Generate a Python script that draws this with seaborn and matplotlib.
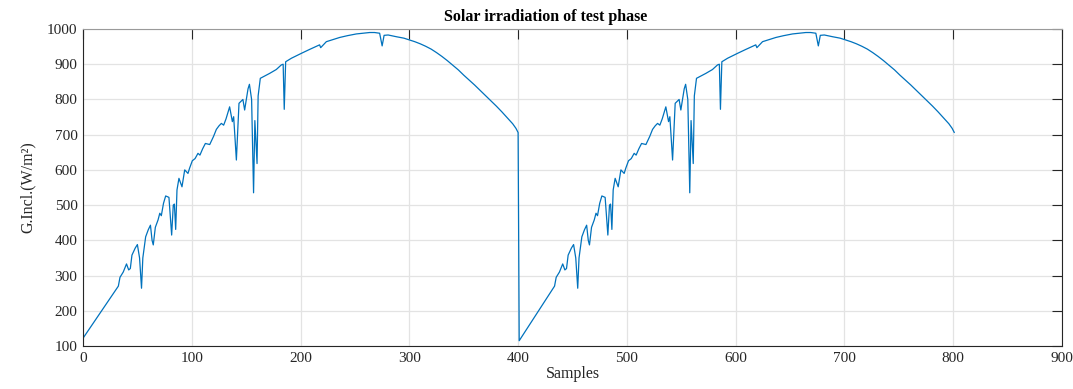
import matplotlib
matplotlib.use("Agg")
import matplotlib.pyplot as plt
import seaborn as sns
import pandas as pd

# ---- data ----
cycle1_samples = [0, 32.5, 34, 37, 40, 42, 43.5, 45, 48, 50, 52, 53.8, 55, 57.6, 60, 62,
                  63.5, 64.6, 66.5, 69, 70.6, 72, 74, 76, 79, 81.5, 83, 84, 85.2, 86.4,
                  88.2, 91, 93.5, 96.5, 98, 100.5, 103, 105.7, 107.5, 110, 112.5, 116.5,
                  120, 122.6, 125, 127.2, 129.3, 131.5, 134.8, 137.3, 138.5, 141, 143.4,
                  147, 148.6, 151.7, 153, 155, 156.8, 158, 160, 161, 163, 171.6, 177.7,
                  182.3, 184, 185, 186.3, 191.6, 200.8, 208.3, 217.5, 218.5, 223.7, 230,
                  236, 243, 251.3, 257, 263.5, 268, 272.7, 275, 276.8, 280.5, 288.2, 295,
                  300, 305, 310, 315, 320, 325, 330, 335, 340, 345, 350, 355, 360, 365,
                  370, 375, 380, 385, 390, 395, 398, 400]
cycle1_irr = [122, 270, 295, 310, 333, 316, 320, 358, 378, 388, 350, 264, 350, 410, 430, 443,
              400, 387, 437, 458, 477, 470, 505, 526, 522, 415, 500, 503, 431, 543,
              576, 552, 600, 590, 605, 626, 632, 647, 642, 660, 675, 672,
              695, 715, 725, 732, 727, 745, 779, 737, 751, 628, 789,
              800, 770, 830, 843, 800, 535, 740, 618, 810, 860, 874, 885,
              898, 900, 772, 907, 917, 931, 942, 955, 947, 964, 970,
              976, 981, 986, 988, 990, 990, 988, 952, 982, 983, 978, 974,
              969, 964, 958, 951, 943, 933, 922, 910, 897, 884, 869, 855, 841, 826,
              811, 796, 781, 765, 748, 731, 718, 706]
cycle2_samples = [401, 433.5, 435, 438, 441, 443, 444.5, 446, 449, 451, 453, 454.8, 456, 458.6, 461, 463,
                  464.5, 465.6, 467.5, 470, 471.6, 473, 475, 477, 480, 482.5, 484, 485, 486.2, 487.4,
                  489.2, 492, 494.5, 497.5, 499, 501.5, 504, 506.7, 508.5, 511, 513.5, 517.5,
                  521, 523.6, 526, 528.2, 530.3, 532.5, 535.8, 538.3, 539.5, 542, 544.4,
                  548, 549.6, 552.7, 554, 556, 557.8, 559, 561, 562, 564, 572.6, 578.7,
                  583.3, 585, 586, 587.3, 592.6, 601.8, 609.3, 618.5, 619.5, 624.7, 631,
                  637, 644, 652.3, 658, 664.5, 669, 673.7, 676, 677.8, 681.5, 689.2, 696,
                  701, 706, 711, 716, 721, 726, 731, 736, 741, 746, 751, 756, 761, 766,
                  771, 776, 781, 786, 791, 796, 799, 801]
cycle2_irr = [115, 270, 295, 310, 333, 316, 320, 358, 378, 388, 350, 264, 350, 410, 430, 443,
              400, 387, 437, 458, 477, 470, 505, 526, 522, 415, 500, 503, 431, 543,
              576, 552, 600, 590, 605, 626, 632, 647, 642, 660, 675, 672,
              695, 715, 725, 732, 727, 745, 779, 737, 751, 628, 789,
              800, 770, 830, 843, 800, 535, 740, 618, 810, 860, 874, 885,
              898, 900, 772, 907, 917, 931, 942, 955, 947, 964, 970,
              976, 981, 986, 988, 990, 990, 988, 952, 982, 983, 978, 974,
              969, 964, 958, 951, 943, 933, 922, 910, 897, 884, 869, 855, 841, 826,
              811, 796, 781, 765, 748, 731, 718, 706]

x_ticks = [0, 100, 200, 300, 400, 500, 600, 700, 800, 900]
y_ticks = [100, 200, 300, 400, 500, 600, 700, 800, 900, 1000]

df = pd.DataFrame({"Samples": cycle1_samples + cycle2_samples,
                   "G": cycle1_irr + cycle2_irr})

sns.set_theme(style="whitegrid")
plt.rcParams["font.family"] = ["Liberation Serif", "DejaVu Serif"]

fig = plt.figure(figsize=(10.73, 3.89), dpi=100)
ax = fig.add_axes([83 / 1073, 1 - 346 / 389, (1062 - 83) / 1073, (346 - 29) / 389])

sns.lineplot(data=df, x="Samples", y="G", ax=ax, color="#0072BD", linewidth=0.9,
             estimator=None, sort=False)

ax.set_xlim(0, 900)
ax.set_ylim(100, 1000)
ax.set_xticks(x_ticks)
ax.set_yticks(y_ticks)
ax.grid(True, color="#e3e3e3", linewidth=0.9)
ax.set_facecolor("white")
for name, sp in ax.spines.items():
    sp.set_visible(True)
    sp.set_color("#262626")
    sp.set_linewidth(0.8)
ax.spines["top"].set_color("#9a9a9a")
ax.tick_params(direction="in", length=7, width=0.8, colors="#262626",
               top=True, right=True, labelsize=11, pad=4, labelcolor="#262626")
ax.set_xlabel("Samples", fontsize=11.5, color="#262626", labelpad=1)
ax.set_ylabel("G.Incl.(W/m²)", fontsize=11.5, color="#262626", labelpad=8)
ax.set_title("Solar irradiation of test phase", fontsize=11.5, fontweight="bold",
             color="black", pad=6, x=0.473)

fig.savefig("out.png", dpi=100, facecolor="white")
